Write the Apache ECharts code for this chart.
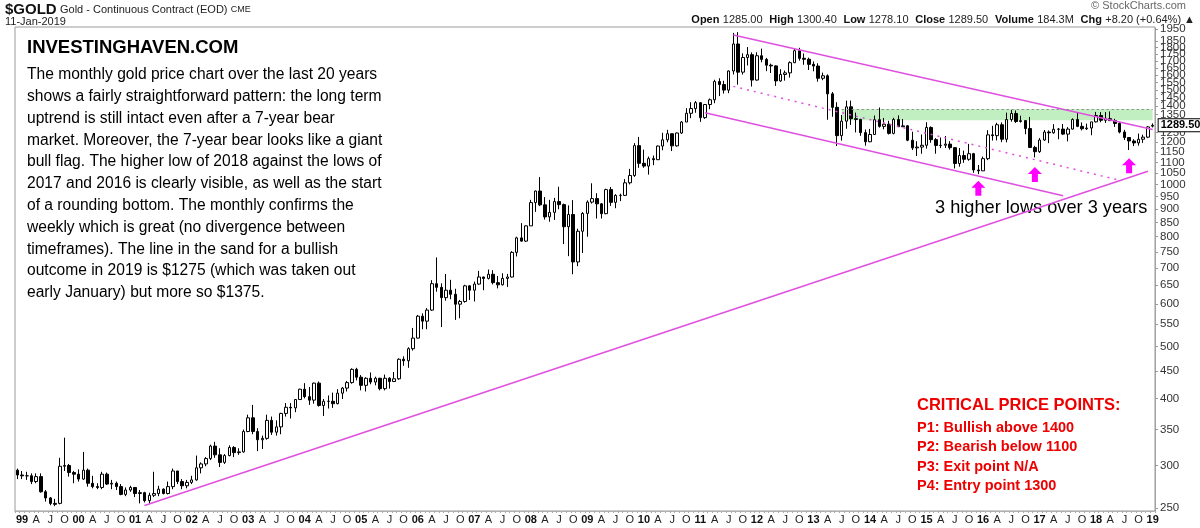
<!DOCTYPE html>
<html><head><meta charset="utf-8">
<script src="https://cdn.jsdelivr.net/npm/echarts@6/dist/echarts.min.js"></script>
<style>html,body{margin:0;padding:0;background:#fff}#c{width:1200px;height:528px}</style>
</head><body><div id="c"></div>
<script>
// ---- DATA (monthly, Dec 1998 .. Jan 2019) ----
const opens = [294,
 288,287,287,280,286,268,261,255,255,299,300,291,
 289,283,294,278,274,273,289,277,278,274,265,270,
 273,266,267,258,264,266,271,266,274,293,280,275,
 279,282,297,302,309,326,314,304,313,324,317,318,
 347,368,347,335,337,364,346,354,375,385,384,398,
 416,403,397,427,388,395,395,391,409,418,428,453,
 438,423,436,429,436,417,436,430,435,473,470,495,
 518,569,557,584,654,644,616,636,625,599,606,648,
 636,653,673,669,681,657,651,669,673,748,796,785,
 838,926,973,917,871,888,930,918,835,880,718,819,
 884,928,942,921,883,979,927,955,955,1008,1040,1182,
 1096,1083,1118,1113,1180,1212,1244,1181,1248,1308,1358,1386,
 1421,1333,1410,1439,1556,1536,1500,1628,1828,1620,1725,1746,
 1566,1738,1711,1669,1664,1560,1604,1615,1687,1776,1719,1712,
 1675,1663,1578,1595,1476,1393,1234,1313,1396,1327,1323,1250,
 1202,1240,1321,1284,1296,1246,1322,1282,1287,1210,1171,1175,
 1184,1278,1213,1183,1184,1190,1172,1095,1133,1115,1142,1065,
 1061,1118,1238,1234,1293,1215,1322,1357,1311,1316,1272,1173,
 1152,1211,1253,1249,1268,1269,1242,1269,1322,1284,1271,1275,
 1309,1345,1318,1327,1316,1300,1253,1224,1206,1196,1215,1226,
 1285];
const highs = [296,
 293,292,290,290,290,270,262,260,310,338,302,293,
 295,318,296,287,278,292,291,282,280,277,273,275,
 273,270,268,267,292,275,272,280,296,293,283,282,
 287,313,304,311,328,332,323,315,327,326,323,350,
 373,389,352,341,373,370,364,376,392,392,399,417,
 427,420,428,430,399,405,410,416,420,431,455,456,
 442,438,447,439,437,443,438,448,475,479,498,541,
 572,576,589,664,732,655,682,665,640,610,651,650,
 660,691,674,695,693,676,684,682,752,800,848,840,
 937,975,1033,948,937,945,991,922,915,936,828,889,
 935,1006,964,924,983,990,960,962,1024,1070,1195,1227,
 1162,1128,1133,1183,1249,1265,1246,1250,1314,1388,1424,1431,
 1425,1412,1447,1568,1578,1561,1632,1917,1923,1756,1804,1763,
 1764,1792,1722,1680,1668,1641,1631,1697,1790,1798,1755,1724,
 1696,1683,1617,1605,1488,1424,1348,1434,1434,1362,1326,1267,
 1270,1345,1392,1331,1315,1332,1346,1325,1291,1255,1205,1240,
 1307,1284,1221,1224,1232,1205,1175,1170,1157,1191,1146,1088,
 1128,1263,1287,1304,1306,1362,1377,1375,1344,1318,1337,1181,
 1221,1264,1262,1296,1275,1297,1280,1329,1362,1306,1299,1309,
 1366,1365,1365,1369,1326,1309,1265,1225,1215,1245,1239,1286,
 1300.4];
const lows = [283,
 283,282,277,278,267,257,253,252,254,293,286,278,
 280,282,274,272,271,271,276,271,270,264,263,268,
 262,255,256,255,262,263,265,265,271,277,271,272,
 277,281,290,299,307,310,298,302,312,311,314,317,
 346,343,319,322,335,342,341,343,370,367,377,398,
 400,389,391,386,371,383,384,390,399,412,426,432,
 414,412,425,423,414,414,417,429,433,460,456,491,
 517,538,538,582,632,543,608,612,560,564,603,610,
 606,651,636,666,652,641,649,645,672,735,783,782,
 838,890,912,861,853,860,900,775,736,681,705,746,
 800,922,865,865,881,913,904,932,953,1001,1034,1075,
 1075,1044,1087,1112,1159,1199,1155,1177,1243,1308,1330,1361,
 1309,1326,1382,1418,1462,1478,1480,1604,1535,1603,1667,1523,
 1562,1690,1627,1614,1527,1554,1562,1583,1684,1702,1672,1635,
 1626,1555,1565,1321,1338,1180,1208,1271,1292,1251,1233,1182,
 1200,1239,1277,1268,1240,1241,1281,1280,1205,1160,1131,1142,
 1167,1197,1142,1170,1170,1162,1072,1080,1098,1108,1052,1046,
 1061,1111,1208,1209,1200,1199,1310,1303,1305,1241,1171,1124,
 1146,1207,1195,1244,1215,1237,1204,1267,1280,1262,1264,1236,
 1306,1307,1303,1314,1281,1246,1211,1160,1180,1182,1196,1221,
 1278.1];
const closes = [288,
 287,287,280,286,268,261,255,254,299,300,291,289,
 283,294,278,274,273,289,277,278,274,265,270,273,
 266,267,258,264,266,271,266,274,293,280,275,279,
 282,297,302,309,326,314,304,313,324,317,318,347,
 368,347,335,337,364,346,354,375,385,384,398,416,
 403,397,427,388,395,395,391,409,418,428,453,438,
 423,436,429,436,417,436,430,435,473,470,495,518,
 569,557,584,654,644,616,636,625,599,606,648,636,
 653,673,669,681,657,651,669,673,748,796,785,838,
 926,973,917,871,888,930,918,835,880,718,819,884,
 928,942,921,883,979,927,955,955,1008,1040,1182,1096,
 1083,1118,1113,1180,1212,1244,1181,1248,1308,1358,1386,1421,
 1333,1410,1439,1556,1536,1500,1628,1828,1620,1725,1746,1566,
 1738,1711,1669,1664,1560,1604,1615,1687,1776,1719,1712,1675,
 1663,1578,1595,1476,1393,1234,1313,1396,1327,1323,1250,1202,
 1240,1321,1284,1296,1246,1322,1282,1287,1210,1171,1175,1184,
 1278,1213,1183,1184,1190,1172,1095,1133,1115,1142,1065,1061,
 1118,1238,1234,1293,1215,1322,1357,1311,1316,1272,1173,1152,
 1211,1253,1249,1268,1269,1242,1269,1322,1284,1271,1275,1309,
 1345,1318,1327,1316,1300,1253,1224,1206,1196,1215,1226,1281,
 1289.5];
const yTickValues = [250,300,350,400,450,500,550,600,650,700,750,800,850,900,950,1000,1050,1100,1150,1200,1250,1350,1400,1450,1500,1550,1600,1650,1700,1750,1800,1850,1900,1950];
const lastPrice = 1289.5;
// annotation lines: [startMonth, startPrice, endMonth, endPrice]
const upTrend = ['2001-03', 252.7, '2018-12', 1059];
const channelTop = ['2011-08', 1900, '2019-01', 1267];
const channelBottom = ['2011-02', 1361, '2017-06', 954];
const channelMid = ['2011-08', 1524, '2018-06', 1019];
const resistanceZone = ['2013-07', 1318, '2019-01', 1383];
const higherLows = [['2015-12', 985], ['2016-12', 1044], ['2018-08', 1085]];

// categories
const months = [];
for (let i = 0; i < opens.length; i++) {
  const y = 1998 + Math.floor((11 + i) / 12);
  const m = (11 + i) % 12 + 1;
  months.push(y + '-' + String(m).padStart(2, '0'));
}
const candles = opens.map((o, i) => [o, closes[i], lows[i], highs[i]]);

const FONT = '"Liberation Sans", Arial, sans-serif';
const MAG = '#e050e0';
const seg = (a, style) => [{coord: [a[0], a[1]], lineStyle: style}, {coord: [a[2], a[3]]}];

const chart = echarts.init(document.getElementById('c'), null, {renderer: 'canvas'});
chart.setOption({
  animation: false,
  backgroundColor: '#fff',
  textStyle: {fontFamily: FONT},
  grid: {left: 15, right: 45, top: 27, bottom: 17, show: true, borderColor: '#9a9a9a', borderWidth: 1},
  xAxis: {
    type: 'category', data: months, boundaryGap: true,
    axisLine: {show: true, lineStyle: {color: '#aaa', type: 'dotted'}},
    axisTick: {show: true, interval: 0, length: 2, lineStyle: {color: '#aaa'}},
    axisLabel: {
      margin: 3, fontSize: 11, color: '#222', fontFamily: FONT,
      interval: (i, v) => [1, 4, 7, 10].includes(+v.slice(5)),
      formatter: v => {
        const m = +v.slice(5);
        if (m === 1) return '{y|' + v.slice(2, 4) + '}';
        return m === 4 ? 'A' : m === 7 ? 'J' : 'O';
      },
      rich: {y: {fontWeight: 'bold', fontSize: 11, color: '#111', fontFamily: FONT}}
    },
    splitLine: {show: false}
  },
  yAxis: {
    type: 'log', logBase: 10, position: 'right', min: 246.8, max: 1966,
    axisLine: {show: true, lineStyle: {color: '#999', type: 'dotted'}},
    axisTick: {show: true, length: 3, customValues: yTickValues, lineStyle: {color: '#999'}},
    minorTick: {show: false},
    axisLabel: {margin: 5, fontSize: 11.5, color: '#333', fontFamily: FONT, customValues: yTickValues,
      showMinLabel: true, showMaxLabel: true, hideOverlap: false,
      formatter: v => String(Math.round(v))},
    splitLine: {show: false}
  },
  series: [{
    type: 'candlestick',
    data: candles,
    barWidth: 3,
    itemStyle: {color: '#fff', color0: '#000', borderColor: '#000', borderColor0: '#000', borderWidth: 1},
    markArea: {
      silent: true,
      itemStyle: {color: 'rgba(120,220,120,0.45)'},
      data: [[{coord: [resistanceZone[0], resistanceZone[1]]}, {coord: [resistanceZone[2], resistanceZone[3]]}]]
    },
    markLine: {
      silent: true, symbol: ['none', 'none'], label: {show: false},
      lineStyle: {color: MAG, width: 1.5, type: 'solid'},
      data: [
        seg(upTrend, {color: MAG, width: 1.5}),
        seg(channelTop, {color: MAG, width: 1.5}),
        seg(channelBottom, {color: MAG, width: 1.5}),
        seg(channelMid, {color: MAG, width: 1.5, type: [2, 5]}),
        [{coord: [resistanceZone[0], resistanceZone[3]], lineStyle: {color: '#888', width: 1, type: [2, 3]}}, {coord: [resistanceZone[2], resistanceZone[3]]}]
      ]
    },
    markPoint: {
      silent: true,
      data: higherLows.map(p => ({
        coord: p, symbol: 'path://M7,0 L14,7 L10,7 L10,15 L4,15 L4,7 L0,7 Z',
        symbolSize: [14, 15], itemStyle: {color: '#ff00ff'}, label: {show: false}
      })).concat([{
        coord: [months[months.length - 1], lastPrice], symbol: 'circle', symbolSize: 0,
        label: {show: true, position: 'right', distance: 6, formatter: lastPrice.toFixed(2),
          fontFamily: FONT, fontSize: 11, fontWeight: 'bold', color: '#000',
          backgroundColor: '#fff', borderColor: '#000', borderWidth: 1, padding: [1, 2, 0, 2]}
      }])
    }
  }],
  graphic: [
    {type: 'text', left: 5, top: 2, style: {
      text: '{b|$GOLD} {n|Gold - Continuous Contract (EOD)} {s|CME}',
      rich: {b: {fontFamily: FONT, fontSize: 15, fontWeight: 'bold', fill: '#111'},
             n: {fontFamily: FONT, fontSize: 11, fill: '#222'},
             s: {fontFamily: FONT, fontSize: 9, fill: '#222'}}}},
    {type: 'text', left: 5, top: 16, style: {text: '11-Jan-2019', font: '11px ' + FONT, fill: '#222'}},
    {type: 'text', right: 14, top: 0, style: {text: '© StockCharts.com', font: '11px ' + FONT, fill: '#666'}},
    {type: 'text', right: 5, top: 14, style: {
      text: '{b|Open} {n|1285.00}  {b|High} {n|1300.40}  {b|Low} {n|1278.10}  {b|Close} {n|1289.50}  {b|Volume} {n|184.3M}  {b|Chg} {n|+8.20 (+0.64%) ▲}',
      rich: {b: {fontFamily: FONT, fontSize: 11, fontWeight: 'bold', fill: '#111'},
             n: {fontFamily: FONT, fontSize: 11, fill: '#222'}}}},
    {type: 'text', left: 27, top: 38, style: {text: 'INVESTINGHAVEN.COM', font: 'bold 18.5px ' + FONT, fill: '#000'}},
    {type: 'text', left: 27, top: 64, style: {
      text: ['The monthly gold price chart over the last 20 years',
        'shows a fairly straightforward pattern: the long term',
        'uptrend is still intact even after a 7-year bear',
        'market. Moreover, the 7-year bear looks like a giant',
        'bull flag. The higher low of 2018 against the lows of',
        '2017 and 2016 is clearly visible, as well as the start',
        'of a rounding bottom. The monthly confirms the',
        'weekly which is great (no divergence between',
        'timeframes). The line in the sand for a bullish',
        'outcome in 2019 is $1275 (which was taken out',
        'early January) but more so $1375.'].join('\n'),
      font: '15.6px ' + FONT, lineHeight: 21.8, fill: '#000'}},
    {type: 'text', left: 935, top: 199, style: {text: '3 higher lows over 3 years', font: '18.2px ' + FONT, fill: '#000'}},
    {type: 'text', left: 917, top: 397, style: {text: 'CRITICAL PRICE POINTS:', font: 'bold 16.5px ' + FONT, fill: '#ee0000'}},
    {type: 'text', left: 917, top: 418, style: {
      text: ['P1: Bullish above 1400', 'P2: Bearish below 1100', 'P3: Exit point N/A', 'P4: Entry point 1300'].join('\n'),
      font: 'bold 14.5px ' + FONT, lineHeight: 19.5, fill: '#ee0000'}}
  ]
});
</script></body></html>
